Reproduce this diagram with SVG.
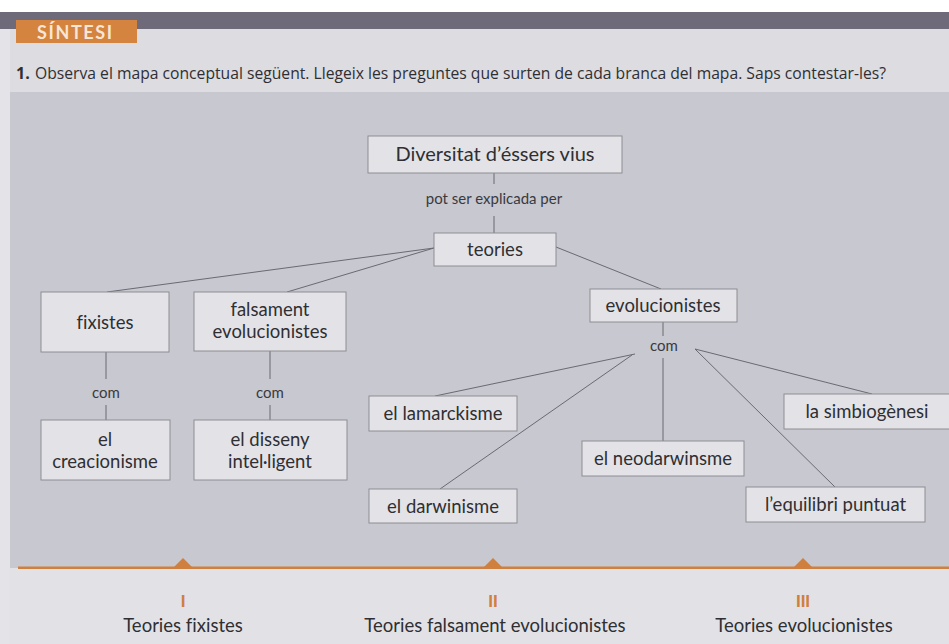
<svg xmlns="http://www.w3.org/2000/svg" width="949" height="644" viewBox="0 0 949 644">
  <style>
    text { font-variant-ligatures: none; font-feature-settings: "liga" 0; }
    .node rect { fill: #e3e3e7; stroke: #8d8d93; stroke-width: 1; }
    .node text, .title { font-family: Lato, "Open Sans", sans-serif; font-size: 18.5px; fill: #2f2f33; text-anchor: middle; }
    .edge { stroke: #6a6a70; stroke-width: 1; fill: none; }
    .lbl { font-family: Lato, "Open Sans", sans-serif; font-size: 15px; fill: #3a3a3e; text-anchor: middle; }
    .num { font-family: "Liberation Sans Narrow", "Liberation Sans", sans-serif; font-size: 17px; font-weight: bold; fill: #cf7f3e; text-anchor: middle; }
  </style>

  <!-- page background and bands -->
  <rect x="0" y="0" width="949" height="644" fill="#e2e2e6"/>
  <rect x="0" y="0" width="949" height="12" fill="#ffffff"/>
  <rect x="0" y="12" width="949" height="17" fill="#6f6a79"/>
  <rect x="10" y="29" width="939" height="63" fill="#dcdce1"/>
  <rect x="10" y="92" width="939" height="476" fill="#c7c8d0"/>
  <rect x="0" y="29" width="10" height="615" fill="#e4e4e8"/>

  <!-- section tab -->
  <rect x="16" y="20" width="121" height="23" fill="#d4843f"/>
  <text x="37" y="38.5" font-family="Lato, 'Open Sans', sans-serif" font-size="18" font-weight="bold" letter-spacing="1.6" fill="#f7e6d6">SÍNTESI</text>

  <!-- exercise statement -->
  <text x="16" y="79" font-family="'Open Sans', sans-serif" font-size="16" fill="#2f2f33"><tspan font-weight="bold">1.</tspan><tspan x="35" textLength="851" lengthAdjust="spacingAndGlyphs">Observa el mapa conceptual següent. Llegeix les preguntes que surten de cada branca del mapa. Saps contestar-les?</tspan></text>

  <!-- connectors -->
  <g id="connectors">
    <line class="edge" x1="494" y1="173" x2="494" y2="184"/>
    <line class="edge" x1="494" y1="216" x2="494" y2="233"/>
    <line class="edge" x1="434" y1="248" x2="107" y2="292"/>
    <line class="edge" x1="434" y1="248" x2="287" y2="292"/>
    <line class="edge" x1="556" y1="247" x2="661" y2="289"/>
    <line class="edge" x1="106" y1="352" x2="106" y2="379"/>
    <line class="edge" x1="106" y1="405" x2="106" y2="420"/>
    <line class="edge" x1="270" y1="351" x2="270" y2="379"/>
    <line class="edge" x1="270" y1="405" x2="270" y2="420"/>
    <line class="edge" x1="663" y1="322" x2="663" y2="336"/>
    <line class="edge" x1="635" y1="354" x2="435" y2="396"/>
    <line class="edge" x1="632" y1="355" x2="440" y2="489"/>
    <line class="edge" x1="663" y1="358" x2="663" y2="441"/>
    <line class="edge" x1="695" y1="349" x2="872" y2="394"/>
    <line class="edge" x1="695" y1="349" x2="835" y2="487"/>
    <text class="lbl" x="494" y="204">pot ser explicada per</text>
    <text class="lbl" x="106" y="398">com</text>
    <text class="lbl" x="270" y="398">com</text>
    <text class="lbl" x="664" y="351">com</text>
  </g>

  <!-- nodes -->
  <g id="diversitat" class="node">
    <rect x="368" y="136" width="254" height="37"/>
    <text x="495" y="161" style="font-size:20px">Diversitat d’éssers vius</text>
  </g>
  <g id="teories" class="node">
    <rect x="434" y="233" width="122" height="33"/>
    <text x="495" y="256">teories</text>
  </g>
  <g id="fixistes" class="node">
    <rect x="41" y="292" width="128" height="60"/>
    <text x="105" y="329">fixistes</text>
  </g>
  <g id="falsament" class="node">
    <rect x="194" y="292" width="152" height="59"/>
    <text x="270" y="316">falsament</text>
    <text x="270" y="338">evolucionistes</text>
  </g>
  <g id="evolucionistes" class="node">
    <rect x="590" y="289" width="147" height="33"/>
    <text x="663" y="312">evolucionistes</text>
  </g>
  <g id="creacionisme" class="node">
    <rect x="41" y="420" width="129" height="60"/>
    <text x="105" y="446">el</text>
    <text x="105" y="468">creacionisme</text>
  </g>
  <g id="disseny" class="node">
    <rect x="194" y="420" width="153" height="60"/>
    <text x="270" y="446">el disseny</text>
    <text x="270" y="468">intel·ligent</text>
  </g>
  <g id="lamarckisme" class="node">
    <rect x="369" y="396" width="148" height="35"/>
    <text x="443" y="420">el lamarckisme</text>
  </g>
  <g id="darwinisme" class="node">
    <rect x="369" y="489" width="148" height="34"/>
    <text x="443" y="513">el darwinisme</text>
  </g>
  <g id="neodarwinsme" class="node">
    <rect x="582" y="441" width="162" height="35"/>
    <text x="663" y="465">el neodarwinsme</text>
  </g>
  <g id="simbiogenesi" class="node">
    <rect x="784" y="394" width="170" height="35"/>
    <text x="867" y="418">la simbiogènesi</text>
  </g>
  <g id="equilibri" class="node">
    <rect x="746" y="487" width="179" height="35"/>
    <text x="835.5" y="511">l’equilibri puntuat</text>
  </g>

  <!-- footer: orange rule with markers and section titles -->
  <g id="footer">
    <rect x="18" y="566.5" width="931" height="2.5" fill="#cf7f3e"/>
    <polygon points="173,568 183,558 193,568" fill="#cf7f3e"/>
    <polygon points="483,568 493,558 503,568" fill="#cf7f3e"/>
    <polygon points="793,568 803,558 813,568" fill="#cf7f3e"/>
    <text class="num" x="183" y="607">I</text>
    <text class="num" x="493" y="607">II</text>
    <text class="num" x="803" y="607">III</text>
    <text class="title" x="183" y="632">Teories fixistes</text>
    <text class="title" x="495" y="632">Teories falsament evolucionistes</text>
    <text class="title" x="804" y="632">Teories evolucionistes</text>
  </g>
</svg>
